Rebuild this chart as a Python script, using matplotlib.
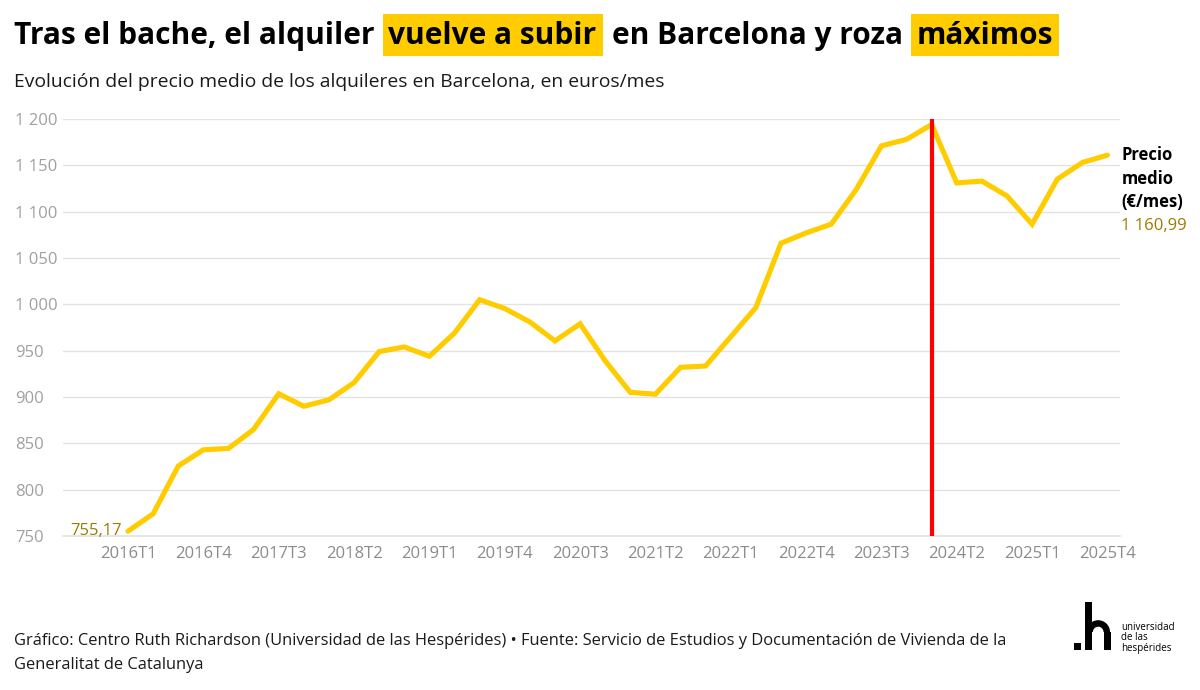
import matplotlib
matplotlib.use("Agg")
import matplotlib.pyplot as plt
from matplotlib.patches import Rectangle, Wedge

# ==============================
# DATA
# ==============================

years = list(range(2016, 2026))
quarters = [f"{y}T{q}" for y in years for q in range(1, 5)]

precio = [755.17, 774, 825.5, 843, 844.5, 865, 903.5, 890, 897, 915.5,
          949, 954, 944, 969, 1005, 995.5, 981, 960.5, 979, 939,
          905, 903, 932, 933.5, 965, 996.5, 1066, 1077, 1086.5, 1124,
          1171, 1178, 1194, 1131, 1133, 1117, 1086.5, 1135, 1153, 1160.99]

y_ticks = [750, 800, 850, 900, 950, 1000, 1050, 1100, 1150, 1200]
marca = "2024T1"

YELLOW = "#FFCC00"
GOLD = "#9C7A00"
GREY = "#8C8C8C"
FONT = "Open Sans"

plt.rcParams["font.family"] = [FONT, "DejaVu Sans"]

W, H = 1200, 690
fig = plt.figure(figsize=(12, 6.9), dpi=100)
renderer = fig.canvas.get_renderer()

def px(x, y):
    return x / W, 1 - y / H

# ==============================
# AXES
# ==============================

ax = fig.add_axes([63 / W, 1 - 536 / H, (1120 - 63) / W, (536 - 119) / H])
xs = list(range(len(quarters)))

ax.plot(xs, precio, color=YELLOW, lw=3.7, solid_capstyle="round",
        solid_joinstyle="miter", zorder=3)
ax.axvline(quarters.index(marca), color="#FF0000", lw=3, zorder=4)
ax.axhline(750, color="#E3E3E3", lw=1.2, clip_on=False, zorder=0)

ax.set_xlim(-2.59, 39.5)
ax.set_ylim(750, 1200)
ax.set_yticks(y_ticks)
ax.set_yticklabels([f"{v:,}".replace(",", " ") for v in y_ticks])
ax.set_xticks(xs[::3])
ax.set_xticklabels(quarters[::3])
ax.grid(axis="y", color="#E3E3E3", lw=1)
ax.set_axisbelow(True)
for s in ax.spines.values():
    s.set_visible(False)
ax.tick_params(axis="y", length=0, pad=34.5, labelsize=12, labelcolor="#A0A0A0")
ax.tick_params(axis="x", length=0, pad=7, labelsize=12, labelcolor=GREY)
for lab in ax.get_yticklabels():
    lab.set_ha("left")

# labels start / end
ax.annotate("755,17", xy=(0, precio[0]), xytext=(-6, 0), textcoords="offset pixels",
            ha="right", va="center", fontsize=12, color=GOLD)
end_lines = [("Precio", "black", "bold"), ("medio", "black", "bold"),
             ("(€/mes)", "black", "bold"), ("1 160,99", GOLD, "normal")]
for i, (txt, c, w) in enumerate(end_lines):
    ax.annotate(txt, xy=(xs[-1], precio[-1]), xytext=(14, -23.5 * i),
                textcoords="offset pixels", ha="left", va="center",
                fontsize=12, color=c, fontweight=w, annotation_clip=False)

# ==============================
# TITLE with highlights
# ==============================

parts = [("Tras el bache, el alquiler", False), ("vuelve a subir", True),
         ("en Barcelona y roza", False), ("máximos", True)]
x = 14
ty = 36
prev_hl = None
for txt, hl in parts:
    if prev_hl is not None:
        x += 8 if hl else 9
    if hl:
        x0 = x
        x += 6
    t = fig.text(*px(x, ty), txt, fontsize=21.5, fontweight="bold",
                 ha="left", va="center", color="black", zorder=3)
    bb = t.get_window_extent(renderer)
    x += bb.width
    if hl:
        x += 6
        fig.patches.append(Rectangle(px(x0, 56), (x - x0) / W, 42 / H,
                                     transform=fig.transFigure,
                                     facecolor=YELLOW, edgecolor="none", zorder=1))
    prev_hl = hl

fig.text(*px(14, 82), "Evolución del precio medio de los alquileres en Barcelona, en euros/mes",
         fontsize=13.9, ha="left", va="center", color="#1a1a1a")

# ==============================
# FOOTER
# ==============================

fig.text(*px(14, 641), "Gráfico: Centro Ruth Richardson (Universidad de las Hespérides) • "
         "Fuente: Servicio de Estudios y Documentación de Vivienda de la",
         fontsize=11.9, ha="left", va="center", color="#1a1a1a")
fig.text(*px(14, 665), "Generalitat de Catalunya",
         fontsize=11.9, ha="left", va="center", color="#1a1a1a")

# logo ".h" (pixel coords -> inches, y from top)
def inch(x, y):
    return x / 100, (H - y) / 100

tr = fig.dpi_scale_trans
logo = [
    Rectangle(inch(1074, 650), 0.07, 0.07),          # dot
    Rectangle(inch(1085, 650), 0.07, 0.48),          # stem
    Rectangle(inch(1104, 650), 0.065, 0.18),         # right leg
    Wedge(inch(1098.2, 632), 0.118, 0, 180, width=0.065),  # arch
]
for p in logo:
    p.set_transform(tr)
    p.set_facecolor("black")
    p.set_edgecolor("none")
    fig.patches.append(p)

fig.text(*px(1121, 638), "universidad\nde las\nhespérides", fontsize=7,
         ha="left", va="center", linespacing=1.0, color="black")

fig.savefig("out.png", dpi=100)
